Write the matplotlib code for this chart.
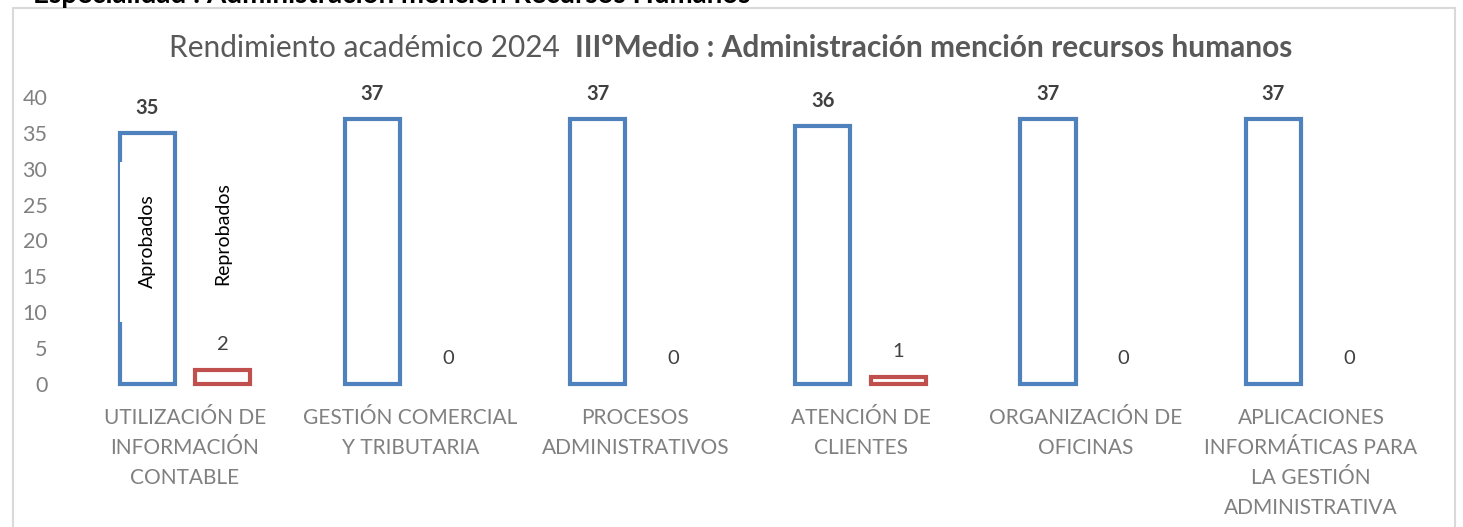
import numpy as np
import matplotlib.pyplot as plt
from matplotlib.patches import Rectangle

plt.rcParams['font.family'] = ['Lato', 'DejaVu Sans']

categorias = ["UTILIZACIÓN DE\nINFORMACIÓN\nCONTABLE",
              "GESTIÓN COMERCIAL\nY TRIBUTARIA",
              "PROCESOS\nADMINISTRATIVOS",
              "ATENCIÓN DE\nCLIENTES",
              "ORGANIZACIÓN DE\nOFICINAS",
              "APLICACIONES\nINFORMÁTICAS PARA\nLA GESTIÓN\nADMINISTRATIVA"]
aprobados = [35, 37, 37, 36, 37, 37]
reprobados = [2, 0, 0, 1, 0, 0]
yticks = [0, 5, 10, 15, 20, 25, 30, 35, 40]

azul = '#4F81BD'
rojo = '#C0504D'
gris = '#808080'
texto = '#404040'

W, H = 1463, 527
fig = plt.figure(figsize=(W / 100, H / 100), dpi=100)
ax = fig.add_axes([72.4 / W, (H - 384) / H, 1351.2 / W, 287 / H])

x = np.arange(len(categorias))
w = 0.245
off = 0.168

b1 = ax.bar(x - off, aprobados, w, facecolor='white', edgecolor=azul, linewidth=3, clip_on=False)
b2 = ax.bar(x + off, reprobados, w, facecolor='white', edgecolor=rojo, linewidth=3, clip_on=False)
# Excel no dibuja las barras con valor 0
for barra, v in zip(b2, reprobados):
    if v == 0:
        barra.set_linewidth(0)

for xi, v in zip(x, aprobados):
    ax.annotate(str(v), (xi - off, v), xytext=(0, 18), textcoords='offset points',
                ha='center', va='center', fontsize=14.5, fontweight='bold', color=texto)
for xi, v in zip(x, reprobados):
    ax.annotate(str(v), (xi + off, v), xytext=(0, 18), textcoords='offset points',
                ha='center', va='center', fontsize=14.5, color=texto)

# etiquetas de serie dentro del primer grupo
ax.add_patch(Rectangle((x[0] - off - w / 2 + 0.004, 8.6), w - 0.03, 22.3,
                       facecolor='white', edgecolor='none', zorder=3))
ax.text(x[0] - off, 19.9, 'Aprobados', rotation=90, ha='center', va='center',
        fontsize=14, color='black', zorder=4)
ax.text(x[0] + off, 21.0, 'Reprobados', rotation=90, ha='center', va='center',
        fontsize=14, color='black', zorder=4)

ax.set_xlim(-0.5, len(categorias) - 0.5)
ax.set_ylim(0, 40)
ax.set_yticks(yticks)
ax.set_yticklabels([str(t) for t in yticks], fontsize=15.5, color=gris)
ax.set_xticks(x)
ax.set_xticklabels(categorias, fontsize=15, color=gris, linespacing=1.63, va='top')
ax.tick_params(axis='y', length=0, pad=18)
ax.tick_params(axis='x', length=0, pad=17)
for s in ax.spines.values():
    s.set_visible(False)

# marco del gráfico
fig.patches.append(Rectangle((13 / W, -0.1), 1442 / W, 1.1 - 8 / H, transform=fig.transFigure,
                             facecolor='none', edgecolor='#D9D9D9', linewidth=1.5))

# encabezado cortado
fig.text(33 / W, 1 - 3 / H, 'Especialidad : Administración mención Recursos Humanos',
         ha='left', va='baseline', fontsize=20, fontweight='bold', color='black')

# título en dos pesos
t1 = fig.text(0, 1 - 48 / H, 'Rendimiento académico 2024  ', ha='left', va='center',
              fontsize=21.5, color='#595959')
t2 = fig.text(0, 1 - 48 / H, 'III°Medio : Administración mención recursos humanos', ha='left',
              va='center', fontsize=21.5, fontweight='bold', color='#595959')
fig.canvas.draw()
r = fig.canvas.get_renderer()
w1 = t1.get_window_extent(r).width
w2 = t2.get_window_extent(r).width
x0 = 730.5 - (w1 + w2) / 2
t1.set_x(x0 / W)
t2.set_x((x0 + w1) / W)

fig.savefig('out.png', dpi=100)
